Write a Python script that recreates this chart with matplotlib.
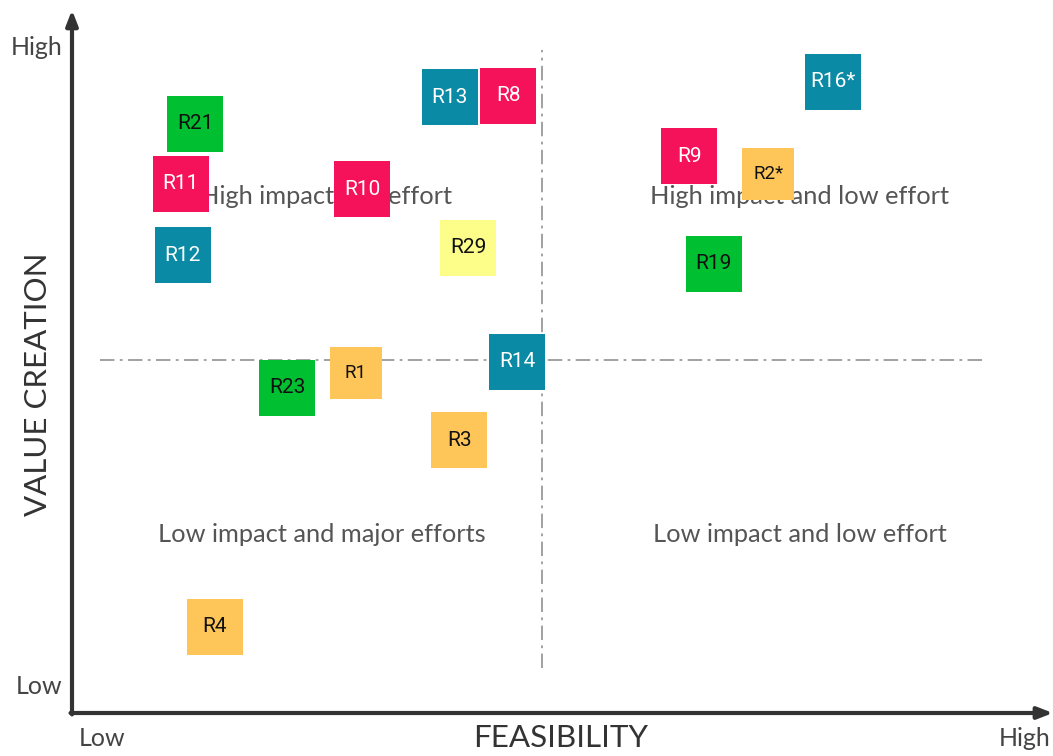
import matplotlib
matplotlib.use("Agg")
import matplotlib.pyplot as plt

# ---- data (feasibility 0-100, value creation 0-100) ----
labels = ["R21", "R11", "R12", "R13", "R8", "R10", "R29", "R9", "R2*", "R16*",
          "R19", "R14", "R1", "R23", "R3", "R4"]
feasibility = [12.6, 11.1, 11.3, 38.6, 44.6, 29.7, 40.5, 63.1, 71.2, 77.8,
               65.6, 45.5, 29.0, 22.0, 39.6, 14.6]
value_creation = [83.8, 75.3, 65.1, 87.6, 87.8, 74.5, 66.2, 79.2, 76.7, 89.8,
                  63.9, 50.0, 48.4, 46.3, 38.8, 12.3]
groups = ["green", "pink", "teal", "teal", "pink", "pink", "yellow", "pink", "orange", "teal",
          "green", "teal", "orange", "green", "orange", "orange"]
small = ["R1", "R2*"]

quadrant_texts = ["High impact and effort", "High impact and low effort",
                  "Low impact and major efforts", "Low impact and low effort"]
quadrant_x = [26.0, 74.4, 25.5, 74.4]
quadrant_y = [73.5, 73.5, 25.4, 25.4]
split_x = 48.05
split_y = 50.2

palette = {"green": "#00BF30", "pink": "#F5125A", "teal": "#0A8AA4",
           "yellow": "#FDFD8A", "orange": "#FEC559"}
text_color = {"green": "#111111", "pink": "white", "teal": "white",
              "yellow": "#111111", "orange": "#111111"}

W, H = 1053, 756
fig = plt.figure(figsize=(W / 100, H / 100), dpi=100)
x0, y0, x1, y1 = 72, 713, 1050, 10
ax = fig.add_axes([x0 / W, (H - y0) / H, (x1 - x0) / W, (y0 - y1) / H])
ax.set_xlim(0, 100)
ax.set_ylim(0, 100)
for s in ax.spines.values():
    s.set_visible(False)
ax.set_xticks([])
ax.set_yticks([])

# axes arrows
arrow_kw = dict(arrowstyle="-|>,head_length=0.9,head_width=0.35", color="#333333", lw=3,
                shrinkA=0, shrinkB=0)
ax.annotate("", xy=(0, 100), xytext=(0, -0.2), arrowprops=arrow_kw, annotation_clip=False)
ax.annotate("", xy=(100.3, 0), xytext=(-0.15, 0), arrowprops=arrow_kw, annotation_clip=False)

# quadrant split lines
ax.plot([split_x, split_x], [6.4, 94.3], color="#9a9a9a", lw=1.3, ls=(0, (8, 3, 1.5, 3)), zorder=1)
ax.plot([2.9, 93.4], [split_y, split_y], color="#9a9a9a", lw=1.3, ls=(0, (8, 3, 1.5, 3)), zorder=1)

qfont = "Lato"
for t, qx, qy in zip(quadrant_texts, quadrant_x, quadrant_y):
    ax.text(qx, qy, t, ha="center", va="center", fontsize=18.3, color="#555555",
            family=qfont, zorder=2)

# squares
for lab, fx, vy, g in zip(labels, feasibility, value_creation, groups):
    size = 37.4 if lab in small else 41.0
    ax.scatter([fx], [vy], marker="s", s=size ** 2, color=palette[g], linewidths=0, zorder=3)
    ax.text(fx, vy, lab, ha="center", va="center", fontsize=15 if lab not in small else 13.5,
            color=text_color[g], family="Roboto", zorder=4)

# axis labels
ax.text(-1.0, 94.7, "High", ha="right", va="center", fontsize=18, color="#444444",
        family=qfont, clip_on=False)
ax.text(-1.0, 3.7, "Low", ha="right", va="center", fontsize=18, color="#444444",
        family=qfont, clip_on=False)
ax.text(3.1, -3.6, "Low", ha="center", va="center", fontsize=18, color="#444444",
        family=qfont, clip_on=False)
ax.text(97.4, -3.6, "High", ha="center", va="center", fontsize=18, color="#444444",
        family=qfont, clip_on=False)
ax.text(50.0, -3.6, "FEASIBILITY", ha="center", va="center", fontsize=22.6, color="#333333",
        family=qfont, clip_on=False)
ax.text(-3.5, 46.7, "VALUE CREATION", ha="center", va="center", fontsize=22.5, color="#333333",
        family=qfont, rotation=90, clip_on=False)

fig.savefig("out.png", dpi=100, facecolor="white")
